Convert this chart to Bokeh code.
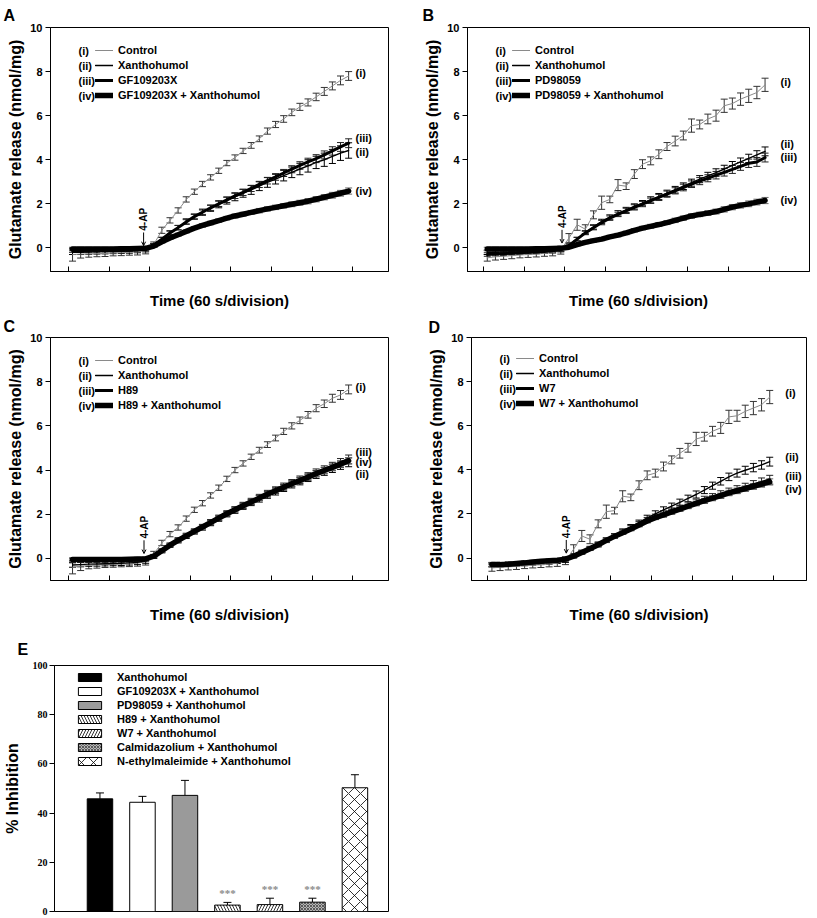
import math
from bokeh.plotting import figure
from bokeh.models import (Range1d, Whisker, TeeHead, OpenHead, Arrow, ColumnDataSource,
                          Label, Legend, LegendItem, FixedTicker)
from bokeh.layouts import column, row
from bokeh.embed import file_html
from bokeh.resources import INLINE
from bokeh.core.properties import value

# ---------------- data ----------------
time_min = [0.1, 0.3, 0.5, 0.7, 0.9, 1.1, 1.3, 1.5, 1.7, 1.9,
            2.1, 2.3, 2.5, 2.7, 2.9, 3.1, 3.3, 3.5, 3.7, 3.9,
            4.1, 4.3, 4.5, 4.7, 4.9, 5.1, 5.3, 5.5, 5.7, 5.9,
            6.1, 6.3, 6.5, 6.7, 6.9]
x_ticks = [0, 1, 2, 3, 4, 5, 6, 7]
y_ticks = [0, 2, 4, 6, 8, 10]

# Panel A
ctrl_a = [-0.30, -0.28, -0.27, -0.26, -0.25, -0.23, -0.22, -0.20, -0.18, -0.12,
          0.15, 0.80, 1.25, 1.70, 2.20, 2.55, 2.90, 3.20, 3.50, 3.85,
          4.10, 4.40, 4.65, 4.95, 5.30, 5.60, 5.85, 6.15, 6.40, 6.60,
          6.85, 7.10, 7.35, 7.60, 7.80]
xan_a = [-0.20, -0.20, -0.19, -0.18, -0.17, -0.16, -0.15, -0.14, -0.12, -0.08,
         0.12, 0.40, 0.68, 0.92, 1.20, 1.42, 1.62, 1.80, 1.98, 2.15,
         2.32, 2.48, 2.63, 2.80, 2.97, 3.12, 3.28, 3.43, 3.58, 3.72,
         3.88, 4.00, 4.15, 4.30, 4.42]
inh_a = [-0.12, -0.12, -0.11, -0.11, -0.10, -0.10, -0.09, -0.08, -0.07, -0.05,
         0.12, 0.40, 0.68, 0.92, 1.18, 1.42, 1.62, 1.82, 2.00, 2.18,
         2.36, 2.52, 2.70, 2.88, 3.05, 3.22, 3.40, 3.57, 3.74, 3.90,
         4.05, 4.22, 4.40, 4.58, 4.75]
comb_a = [-0.05, -0.05, -0.05, -0.05, -0.05, -0.05, -0.04, -0.04, -0.03, -0.02,
          0.08, 0.28, 0.45, 0.60, 0.75, 0.90, 1.02, 1.13, 1.24, 1.35,
          1.45, 1.53, 1.61, 1.69, 1.77, 1.84, 1.91, 1.98, 2.05, 2.12,
          2.21, 2.30, 2.39, 2.48, 2.58]

# Panel B
ctrl_b = [-0.45, -0.40, -0.38, -0.35, -0.32, -0.30, -0.28, -0.25, -0.22, -0.10,
          0.45, 1.05, 0.85, 1.50, 2.05, 2.20, 2.85, 2.80, 3.35, 3.80,
          3.95, 4.25, 4.60, 4.85, 5.10, 5.55, 5.60, 5.85, 6.00, 6.45,
          6.55, 6.75, 6.90, 7.05, 7.40]
xan_b = [-0.20, -0.20, -0.19, -0.18, -0.18, -0.17, -0.16, -0.15, -0.13, -0.08,
         0.10, 0.40, 0.70, 0.95, 1.20, 1.40, 1.57, 1.72, 1.88, 2.03,
         2.18, 2.33, 2.48, 2.64, 2.80, 2.96, 3.12, 3.27, 3.42, 3.58,
         3.74, 3.90, 4.06, 4.22, 4.38]
inh_b = [-0.30, -0.28, -0.26, -0.24, -0.22, -0.20, -0.18, -0.16, -0.13, -0.08,
         0.10, 0.40, 0.68, 0.92, 1.15, 1.35, 1.52, 1.68, 1.84, 1.99,
         2.14, 2.29, 2.44, 2.59, 2.74, 2.89, 3.03, 3.16, 3.30, 3.43,
         3.56, 3.70, 3.84, 3.90, 4.10]
comb_b = [-0.05, -0.05, -0.05, -0.05, -0.05, -0.05, -0.04, -0.04, -0.03, -0.02,
          0.03, 0.15, 0.25, 0.33, 0.40, 0.50, 0.58, 0.68, 0.80, 0.90,
          0.98, 1.06, 1.15, 1.25, 1.35, 1.45, 1.52, 1.58, 1.65, 1.75,
          1.85, 1.93, 2.00, 2.08, 2.15]

# Panel C
ctrl_c = [-0.40, -0.35, -0.32, -0.30, -0.28, -0.27, -0.26, -0.25, -0.22, -0.15,
          0.20, 0.70, 1.10, 1.40, 1.80, 2.20, 2.50, 2.85, 3.20, 3.60,
          4.00, 4.30, 4.60, 4.90, 5.15, 5.45, 5.75, 6.00, 6.25, 6.50,
          6.80, 7.00, 7.25, 7.40, 7.65]
xan_c = [-0.30, -0.28, -0.26, -0.25, -0.24, -0.23, -0.22, -0.20, -0.18, -0.12,
         0.08, 0.33, 0.58, 0.80, 1.00, 1.20, 1.40, 1.60, 1.80, 2.00,
         2.18, 2.36, 2.53, 2.70, 2.87, 3.03, 3.19, 3.35, 3.50, 3.65,
         3.80, 3.94, 4.08, 4.22, 4.35]
inh_c = [-0.10, -0.10, -0.10, -0.10, -0.10, -0.09, -0.09, -0.08, -0.07, -0.05,
         0.10, 0.36, 0.62, 0.84, 1.04, 1.24, 1.44, 1.64, 1.84, 2.04,
         2.22, 2.40, 2.58, 2.76, 2.93, 3.09, 3.25, 3.41, 3.56, 3.71,
         3.87, 4.01, 4.16, 4.32, 4.48]
comb_c = [-0.05, -0.05, -0.05, -0.05, -0.05, -0.05, -0.05, -0.04, -0.03, -0.02,
          0.10, 0.35, 0.60, 0.82, 1.02, 1.22, 1.42, 1.62, 1.82, 2.02,
          2.20, 2.38, 2.55, 2.73, 2.90, 3.06, 3.22, 3.38, 3.53, 3.68,
          3.84, 3.98, 4.12, 4.27, 4.42]

# Panel D
ctrl_d = [-0.45, -0.42, -0.40, -0.38, -0.35, -0.32, -0.30, -0.27, -0.24, -0.12,
          0.40, 1.00, 0.85, 1.55, 2.10, 2.15, 2.80, 2.75, 3.30, 3.75,
          3.85, 4.15, 4.45, 4.75, 5.00, 5.40, 5.50, 5.75, 5.90, 6.40,
          6.45, 6.65, 6.80, 6.95, 7.30]
xan_d = [-0.30, -0.30, -0.28, -0.27, -0.25, -0.22, -0.20, -0.18, -0.15, -0.10,
         0.08, 0.25, 0.42, 0.60, 0.80, 1.00, 1.20, 1.40, 1.60, 1.82,
         2.00, 2.18, 2.35, 2.52, 2.70, 2.88, 3.08, 3.28, 3.48, 3.68,
         3.85, 3.98, 4.10, 4.22, 4.37]
inh_d = [-0.32, -0.30, -0.28, -0.26, -0.24, -0.20, -0.18, -0.15, -0.12, -0.06,
         0.10, 0.28, 0.45, 0.63, 0.82, 1.00, 1.18, 1.36, 1.54, 1.72,
         1.87, 2.00, 2.13, 2.26, 2.39, 2.52, 2.64, 2.76, 2.88, 3.00,
         3.10, 3.21, 3.32, 3.43, 3.55]
comb_d = [-0.30, -0.30, -0.28, -0.25, -0.22, -0.18, -0.15, -0.12, -0.10, -0.05,
          0.08, 0.25, 0.42, 0.60, 0.80, 0.98, 1.15, 1.32, 1.50, 1.68,
          1.83, 1.96, 2.09, 2.22, 2.35, 2.48, 2.60, 2.72, 2.83, 2.95,
          3.05, 3.15, 3.25, 3.35, 3.45]

# SEM values
err_ctrl_a = [0.30, 0.18, 0.15, 0.14, 0.14, 0.13, 0.13, 0.13, 0.14, 0.15,
              0.12, 0.14, 0.12, 0.12, 0.12, 0.12, 0.12, 0.12, 0.12, 0.12,
              0.12, 0.12, 0.13, 0.13, 0.14, 0.14, 0.15, 0.15, 0.16, 0.16,
              0.17, 0.18, 0.18, 0.20, 0.20]
err_ctrl_b = [0.15, 0.15, 0.14, 0.14, 0.13, 0.13, 0.13, 0.13, 0.14, 0.18,
              0.20, 0.25, 0.20, 0.18, 0.30, 0.15, 0.25, 0.15, 0.20, 0.20,
              0.18, 0.20, 0.18, 0.22, 0.20, 0.30, 0.20, 0.22, 0.25, 0.30,
              0.25, 0.28, 0.30, 0.28, 0.30]
err_ctrl_c = [0.30, 0.20, 0.15, 0.14, 0.13, 0.13, 0.12, 0.12, 0.13, 0.15,
              0.12, 0.12, 0.12, 0.12, 0.12, 0.12, 0.12, 0.12, 0.12, 0.12,
              0.12, 0.12, 0.12, 0.13, 0.13, 0.13, 0.14, 0.14, 0.15, 0.15,
              0.16, 0.17, 0.18, 0.20, 0.20]
err_xan = [0.10, 0.10, 0.10, 0.10, 0.10, 0.10, 0.10, 0.10, 0.10, 0.10,
           0.08, 0.08, 0.10, 0.10, 0.12, 0.12, 0.14, 0.14, 0.16, 0.16,
           0.18, 0.18, 0.20, 0.20, 0.22, 0.22, 0.24, 0.24, 0.26, 0.28,
           0.28, 0.30, 0.32, 0.33, 0.35]
err_xan_bd = [0.10, 0.10, 0.10, 0.10, 0.10, 0.10, 0.10, 0.10, 0.10, 0.10,
              0.08, 0.08, 0.08, 0.10, 0.10, 0.10, 0.12, 0.12, 0.12, 0.12,
              0.14, 0.14, 0.14, 0.15, 0.15, 0.16, 0.16, 0.16, 0.17, 0.17,
              0.18, 0.18, 0.19, 0.19, 0.20]
err_inh = [0.08, 0.08, 0.08, 0.08, 0.08, 0.08, 0.08, 0.08, 0.08, 0.08,
           0.08, 0.08, 0.08, 0.10, 0.10, 0.10, 0.10, 0.12, 0.12, 0.12,
           0.12, 0.14, 0.14, 0.14, 0.15, 0.15, 0.16, 0.16, 0.17, 0.17,
           0.18, 0.18, 0.19, 0.20, 0.20]
err_comb = [0.08, 0.08, 0.08, 0.08, 0.08, 0.08, 0.08, 0.08, 0.08, 0.08,
            0.06, 0.06, 0.06, 0.07, 0.07, 0.07, 0.08, 0.08, 0.08, 0.08,
            0.09, 0.09, 0.09, 0.10, 0.10, 0.10, 0.10, 0.11, 0.11, 0.12,
            0.12, 0.12, 0.13, 0.13, 0.14]

# Panel E
treatments = ["Xanthohumol", "GF109203X + Xanthohumol", "PD98059 + Xanthohumol",
              "H89 + Xanthohumol", "W7 + Xanthohumol", "Calmidazolium + Xanthohumol",
              "N-ethylmaleimide + Xanthohumol"]
inhibition = [45.8, 44.4, 47.2, 2.6, 2.8, 3.8, 50.3]
inhibition_err = [2.4, 2.4, 6.1, 1.1, 2.6, 1.6, 5.3]
significance = ["", "", "", "***", "***", "***", ""]
e_ticks = [0, 20, 40, 60, 80, 100]

SANS = "Liberation Sans"
SERIF = "Liberation Serif"


def base_style(p):
    p.grid.visible = False
    p.outline_line_color = "black"
    p.outline_line_width = 1
    p.outline_line_alpha = 1
    p.background_fill_color = "white"
    p.border_fill_color = "white"


def panel_letter(p, letter, offset, standoff):
    p.title.text = letter
    p.title.align = "left"
    p.title.offset = offset
    p.title.standoff = standoff
    p.title.text_font = SANS
    p.title.text_font_style = "bold"
    p.title.text_font_size = "16px"
    p.title.text_color = "black"


def add_series(p, y, err, color, width, cap_color):
    up = [a + b for a, b in zip(y, err)]
    lo = [a - b for a, b in zip(y, err)]
    src = ColumnDataSource(dict(t=time_min, y=y, up=up, lo=lo))
    w = Whisker(source=src, base="t", upper="up", lower="lo",
                line_color=cap_color, line_width=1,
                upper_head=TeeHead(size=7, line_color=cap_color, line_width=1),
                lower_head=TeeHead(size=7, line_color=cap_color, line_width=1))
    p.add_layout(w)
    r = p.line("t", "y", source=src, line_color=color, line_width=width,
               line_cap="round", line_join="round")
    return r


def line_panel(letter, series, errs, names, xr, yr, w, h, bl, br, bt, bb,
               rl_x, rlabels, ap_t, ap_v, letter_x, letter_standoff, xlab_standoff):
    fh = h - bt - bb
    p = figure(width=w, height=h, x_range=Range1d(*xr), y_range=Range1d(*yr),
               output_backend="svg", toolbar_location=None,
               min_border_left=bl, min_border_right=br, min_border_top=bt,
               min_border_bottom=bb)
    base_style(p)
    panel_letter(p, letter, letter_x, letter_standoff)
    styles = [("#8a8a8a", 1.0, "#333333"), ("black", 1.4, "black"),
              ("black", 3.0, "#222222"), ("black", 5.5, "#666666")]
    rends = []
    for y, e, (c, lw, cc) in zip(series, errs, styles):
        rends.append(add_series(p, y, e, c, lw, cc))

    # axes
    xa = p.xaxis[0]
    xa.ticker = FixedTicker(ticks=x_ticks)
    xa.major_tick_in = 5
    xa.major_tick_out = 0
    xa.major_tick_line_color = "black"
    xa.minor_tick_line_color = None
    xa.major_label_overrides = {t: "" for t in x_ticks}
    xa.major_label_standoff = 0
    xa.axis_label = "Time (60 s/division)"
    xa.axis_label_text_font = SANS
    xa.axis_label_text_font_style = "bold"
    xa.axis_label_text_font_size = "15px"
    xa.axis_label_text_color = "black"
    xa.axis_label_standoff = xlab_standoff
    xa.axis_line_color = "black"

    ya = p.yaxis[0]
    ya.ticker = FixedTicker(ticks=y_ticks)
    ya.major_tick_in = 0
    ya.major_tick_out = 5
    ya.major_tick_line_color = "black"
    ya.minor_tick_line_color = None
    ya.major_label_text_font = SANS
    ya.major_label_text_font_style = "bold"
    ya.major_label_text_font_size = "11px"
    ya.major_label_text_color = "black"
    ya.major_label_standoff = 3
    ya.axis_label = "Glutamate release (nmol/mg)"
    ya.axis_label_text_font = SANS
    ya.axis_label_text_font_style = "bold"
    ya.axis_label_text_font_size = "16px"
    ya.axis_label_text_color = "black"
    ya.axis_label_standoff = 3
    ya.axis_line_color = "black"

    # legend
    items = [LegendItem(label=n, renderers=[r]) for n, r in zip(names, rends)]
    leg = Legend(items=items, location=(45, fh - 19 - 59), glyph_width=18,
                 glyph_height=14, label_height=14, spacing=1, padding=0, margin=0,
                 label_standoff=5, border_line_alpha=0, background_fill_alpha=0,
                 label_text_font=SANS, label_text_font_style="bold",
                 label_text_font_size="11px", label_text_color="black")
    p.add_layout(leg)
    for i, rn in enumerate(["(i)", "(ii)", "(iii)", "(iv)"]):
        p.add_layout(Label(x=28, y=fh - 26 - 15 * i, x_units="screen", y_units="screen",
                           text=rn, text_font=SANS, text_font_style="bold",
                           text_font_size="11px", text_baseline="middle",
                           text_align="left", text_color="black"))
    # right-hand curve labels
    for txt, yv in rlabels:
        p.add_layout(Label(x=rl_x, y=yv, text=txt, text_font=SANS,
                           text_font_style="bold", text_font_size="11px",
                           text_baseline="middle", text_align="left",
                           text_color="black"))
    # 4-AP marker
    p.add_layout(Arrow(x_start=ap_t, y_start=ap_v + 0.6, x_end=ap_t, y_end=ap_v,
                       line_width=1, line_color="black",
                       end=OpenHead(size=4, line_width=1, line_color="black")))
    p.add_layout(Label(x=ap_t, y=ap_v + 0.68, text="4-AP", angle=math.pi / 2,
                       text_font=SANS, text_font_style="bold",
                       text_font_size="10px", text_baseline="middle",
                       text_align="left", text_color="black"))
    return p


pa = line_panel("A", [ctrl_a, xan_a, inh_a, comb_a],
                [err_ctrl_a, err_xan, err_inh, err_comb],
                ["Control", "Xanthohumol", "GF109203X", "GF109203X + Xanthohumol"],
                (-0.443, 7.882), (-1.07, 10), 408, 311, 50, 20, 27, 37,
                7.07, [("(i)", 7.95), ("(iii)", 5.0), ("(ii)", 4.33), ("(iv)", 2.56)],
                1.85, 0.1, -47, 8, 20)
pb = line_panel("B", [ctrl_b, xan_b, inh_b, comb_b],
                [err_ctrl_b, err_xan_bd, err_inh, err_comb],
                ["Control", "Xanthohumol", "PD98059", "PD98059 + Xanthohumol"],
                (-0.384, 7.988), (-1.07, 10), 409, 311, 59, 8, 27, 37,
                7.28, [("(i)", 7.54), ("(ii)", 4.72), ("(iii)", 4.12), ("(iv)", 2.19)],
                1.93, 0.22, -45, 8, 20)
pc = line_panel("C", [ctrl_c, xan_c, inh_c, comb_c],
                [err_ctrl_c, err_xan_bd, err_inh, err_comb],
                ["Control", "Xanthohumol", "H89", "H89 + Xanthohumol"],
                (-0.443, 7.882), (-1.0, 10), 408, 314, 50, 20, 26, 42,
                7.07, [("(i)", 7.77), ("(iii)", 4.82), ("(iv)", 4.35), ("(ii)", 3.83)],
                1.86, 0.22, -47, 6, 25)
pd_ = line_panel("D", [ctrl_d, xan_d, inh_d, comb_d],
                 [err_ctrl_b, err_xan_bd, err_inh, err_comb],
                 ["Control", "Xanthohumol", "W7", "W7 + Xanthohumol"],
                 (-0.40, 7.80), (-1.02, 10), 409, 314, 63, 11, 24, 42,
                 7.28, [("(i)", 7.48), ("(ii)", 4.59), ("(iii)", 3.73), ("(iv)", 3.14)],
                 1.92, 0.22, -43, 4, 25)

# ---------------- Panel E ----------------
EH, EBT, EBB = 292, 40, 6
efh = EH - EBT - EBB
pe = figure(width=408, height=EH, x_range=Range1d(-1.07, 6.79), y_range=Range1d(0, 100),
            output_backend="svg", toolbar_location=None,
            min_border_left=50, min_border_right=20, min_border_top=EBT,
            min_border_bottom=EBB)
base_style(pe)
panel_letter(pe, "E", -37, 16)
pe.xaxis.visible = False
ye = pe.yaxis[0]
ye.ticker = FixedTicker(ticks=e_ticks)
ye.major_tick_in = 0
ye.major_tick_out = 5
ye.major_tick_line_color = "black"
ye.minor_tick_line_color = None
ye.major_label_text_font = SERIF
ye.major_label_text_font_style = "bold"
ye.major_label_text_font_size = "10px"
ye.major_label_text_color = "black"
ye.major_label_standoff = 2
ye.axis_label = "% Inhibition"
ye.axis_label_text_font = SANS
ye.axis_label_text_font_style = "bold"
ye.axis_label_text_font_size = "16px"
ye.axis_label_text_color = "black"
ye.axis_label_standoff = 9
ye.axis_line_color = "black"

bar_styles = [
    dict(fill_color="black"),
    dict(fill_color="white"),
    dict(fill_color="#9a9a9a"),
    dict(fill_color="white", hatch_pattern="\\", hatch_scale=6, hatch_weight=0.8, hatch_color="black"),
    dict(fill_color="white", hatch_pattern="/", hatch_scale=6, hatch_weight=0.8, hatch_color="black"),
    dict(fill_color="#b5b5b5", hatch_pattern="x", hatch_scale=3, hatch_weight=0.7, hatch_color="#333333"),
    dict(fill_color="white", hatch_pattern="x", hatch_scale=12, hatch_weight=0.8, hatch_color="black"),
]
positions = list(range(len(treatments)))
bar_items = []
for i, name in enumerate(treatments):
    src = ColumnDataSource(dict(x=[positions[i]], top=[inhibition[i]],
                                up=[inhibition[i] + inhibition_err[i]]))
    r = pe.vbar(x="x", top="top", width=0.6, source=src, line_color="black",
                line_width=1, **bar_styles[i])
    pe.add_layout(Whisker(source=src, base="x", upper="up", lower="top",
                          line_color="black", line_width=1,
                          upper_head=TeeHead(size=8, line_color="black", line_width=1),
                          lower_head=None))
    bar_items.append(LegendItem(label=name, renderers=[r]))

star_x = [positions[i] for i in range(len(treatments)) if significance[i]]
star_y = [inhibition[i] + inhibition_err[i] + 1.2 for i in range(len(treatments)) if significance[i]]
star_t = [s for s in significance if s]
pe.text(x=star_x, y=star_y, text=star_t, text_font=value(SERIF), text_font_style="bold",
        text_font_size="11px", text_color="#8a8a8a", text_align="center",
        text_baseline="bottom")

leg_e = Legend(items=bar_items, location=(21, efh - 5 - 98), glyph_width=29,
               glyph_height=10, label_height=14, spacing=0, padding=0, margin=0,
               label_standoff=13, border_line_alpha=0, background_fill_alpha=0,
               label_text_font=SANS, label_text_font_style="bold",
               label_text_font_size="11px", label_text_color="black")
pe.add_layout(leg_e)

layout = column(row(pa, pb), row(pc, pd_), row(pe))
open("out.html", "w").write(file_html(layout, INLINE))
